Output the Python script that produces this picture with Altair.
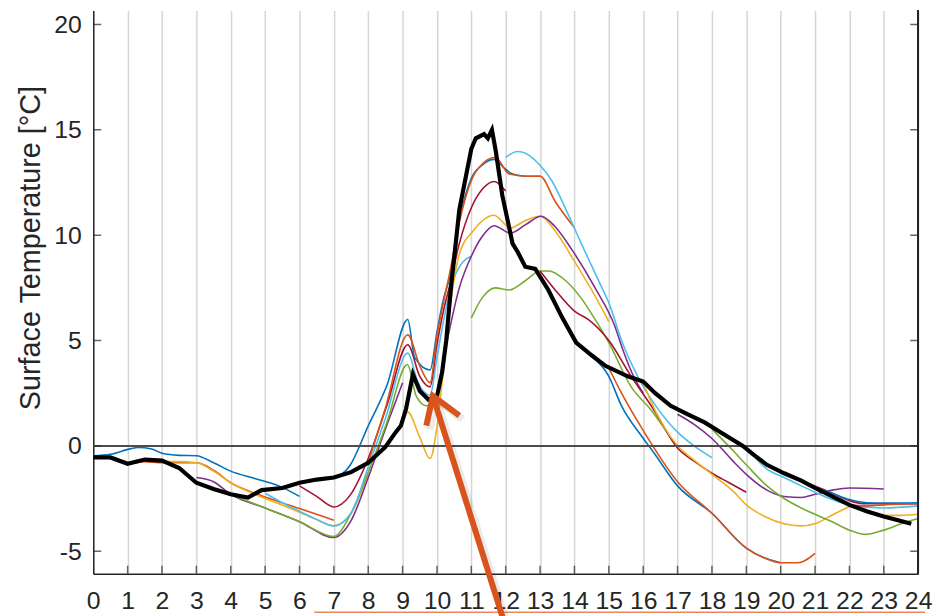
import altair as alt
import pandas as pd

# ---------------- data ----------------
palette = ["#0072BD", "#D95319", "#EDB120", "#7E2F8E", "#77AC30", "#4DBEEE", "#A2142F"]

# observed surface temperature (thick black)
obs_hour = [0, 0.5, 1, 1.5, 2, 2.5, 3, 3.5, 4, 4.5, 4.9, 5.5, 6, 6.5, 7, 7.5, 8, 8.5, 8.8, 8.95,
            9.1, 9.3, 9.5, 9.75, 10.0, 10.15, 10.27, 10.4, 10.65, 11.0, 11.13, 11.37, 11.48, 11.6, 11.71,
            11.9, 12.2, 12.35, 12.57, 12.86, 13.24, 13.64, 14.05, 14.5, 14.9, 15.55, 16.0, 16.35, 16.8,
            17.3, 17.8, 18.25, 18.9, 19.2, 19.6, 20.1, 20.6, 21.0, 21.5, 22.0, 22.5, 23.0, 23.8]
obs_temp = [-0.55, -0.55, -0.85, -0.65, -0.7, -1.05, -1.75, -2.05, -2.3, -2.45, -2.1, -2.0, -1.75, -1.6,
            -1.5, -1.25, -0.8, -0.05, 0.65, 0.95, 1.75, 3.4, 2.6, 2.2, 2.35, 3.5, 5.0, 7.4, 11.2, 14.1,
            14.6, 14.8, 14.6, 15.0, 14.0, 11.9, 9.6, 9.2, 8.5, 8.4, 7.4, 6.1, 4.9, 4.3, 3.8, 3.3, 3.05,
            2.5, 1.9, 1.5, 1.1, 0.65, 0.0, -0.4, -0.9, -1.3, -1.65, -2.0, -2.4, -2.8, -3.1, -3.35, -3.7]

# 6-hour forecast runs, one started every hour
run00_h = [0, 0.5, 1.1, 1.3, 1.7, 2, 2.5, 3, 3.5, 4, 4.7, 5.4, 6]
run00_t = [-0.47, -0.4, -0.13, -0.08, -0.15, -0.35, -0.45, -0.47, -0.8, -1.2, -1.55, -1.9, -2.4]
run01_h = [1, 1.5, 2, 2.5, 3, 3.5, 4, 4.7, 5.4, 6, 6.5, 7]
run01_t = [-0.88, -0.75, -0.8, -0.8, -0.8, -1.15, -1.75, -2.25, -2.65, -2.97, -3.25, -3.53]
run02_h = [2, 2.5, 3, 3.5, 4, 4.7, 5.4, 6, 6.5, 7, 7.5, 8]
run02_t = [-0.75, -0.75, -0.8, -1.2, -1.75, -2.3, -2.75, -3.15, -3.5, -3.8, -3.2, -1.3]
run03_h = [3, 3.5, 4, 5, 6, 7, 7.5, 8, 8.5, 9]
run03_t = [-1.5, -1.7, -2.3, -2.95, -3.6, -4.35, -3.55, -1.5, 0.8, 3.0]
run04_h = [4, 5, 6, 7, 7.47, 8, 8.54, 9.14, 9.4, 9.7, 10]
run04_t = [-2.3, -2.95, -3.6, -4.3, -3.3, -1.25, 1.1, 3.86, 2.35, 1.9, 2.0]
run05_h = [5, 5.5, 6, 6.5, 7, 7.5, 8, 8.5, 9.15, 9.45, 9.8, 10.0, 10.2, 10.37, 10.65, 11]
run05_t = [-2.25, -2.7, -3.1, -3.5, -3.8, -3.2, -1.0, 1.3, 4.4, 3.0, 2.4, 4.2, 6.0, 7.3, 8.5, 9.0]
run06_h = [6, 6.5, 7, 7.47, 8, 8.54, 9.15, 9.5, 9.8, 10.0, 10.2, 10.37, 10.65, 11.0, 11.33, 11.66, 12]
run06_t = [-1.9, -2.4, -2.9, -2.35, -0.6, 1.9, 4.8, 3.3, 2.8, 4.8, 6.5, 7.6, 9.6, 11.3, 12.2, 12.55, 12.1]
run07_h = [7, 7.47, 8, 8.55, 9.15, 9.35, 9.8, 10.0, 10.18, 10.37, 10.65, 11.0, 11.33, 11.66, 11.95,
           12.2, 12.57, 13]
run07_t = [-1.55, -0.93, 0.95, 2.9, 6.0, 4.2, 3.6, 5.4, 6.9, 8.0, 10.7, 12.7, 13.35, 13.6, 13.2,
           12.9, 12.8, 12.8]
run08_h = [8, 8.5, 9.15, 9.5, 9.8, 10.0, 10.2, 10.37, 10.65, 11.0, 11.33, 11.7, 12.1, 12.6, 13.0,
           13.44, 14]
run08_t = [-0.8, 1.8, 5.27, 3.8, 3.0, 5.2, 6.9, 8.2, 10.6, 12.6, 13.4, 13.7, 12.9, 12.8, 12.8,
           11.6, 10.35]
run09_h = [9, 9.15, 9.5, 9.8, 10.0, 10.2, 10.4, 10.65, 11.05, 11.66, 12.14, 12.58, 13.0, 13.44, 13.93,
           14.5, 15]
run09_t = [1.3, 1.6, 0.4, -0.6, 0.9, 3.8, 6.8, 9.1, 10.2, 10.95, 10.35, 10.7, 10.9, 10.2, 8.95, 7.4, 5.9]
run10_h = [10, 10.3, 10.65, 11, 11.3, 11.66, 12.14, 12.58, 13.03, 13.44, 13.93, 14.6, 15.17, 15.4,
           15.75, 16]
run10_t = [2.4, 5.0, 7.5, 9.0, 9.9, 10.45, 10.1, 10.5, 10.9, 10.4, 9.3, 7.5, 5.7, 4.6, 3.2, 2.5]
run11_h = [11, 11.33, 11.7, 12.1, 12.58, 13, 13.25, 13.73, 14.2, 14.6, 15, 15.65, 16.23, 17]
run11_t = [6.07, 7.06, 7.5, 7.4, 7.85, 8.3, 8.3, 7.86, 7.0, 6.0, 4.9, 2.8, 1.7, -0.1]
run12_h = [12, 12.35, 12.67, 12.95, 13.35, 13.73, 14.2, 14.8, 15.0, 15.37, 15.84, 16.3, 17.0, 17.48, 18]
run12_t = [13.7, 13.97, 13.8, 13.4, 12.56, 11.3, 9.6, 7.5, 6.8, 5.0, 3.3, 2.05, 0.65, 0.0, -0.56]
run13_h = [13, 13.44, 14, 14.4, 15, 15.65, 16.3, 17, 17.5, 18, 18.5, 19]
run13_t = [8.3, 7.4, 6.4, 6.0, 5.0, 3.3, 1.74, -0.1, -0.75, -1.3, -1.75, -2.2]
run14_h = [14, 14.4, 15, 15.37, 15.95, 16.3, 17, 18, 19, 19.5, 20]
run14_t = [5.0, 4.4, 3.3, 1.9, 0.47, -0.3, -1.9, -3.2, -4.85, -5.3, -5.55]
run15_h = [15, 15.37, 16.03, 17, 18, 19, 19.5, 20, 20.5, 21]
run15_t = [3.7, 2.5, 0.65, -1.7, -3.2, -4.85, -5.3, -5.55, -5.55, -5.1]
run16_h = [16, 16.2, 17, 17.5, 18, 18.63, 19, 19.6, 20.1, 20.57, 21.04, 21.5, 22]
run16_t = [3.0, 2.2, 0.0, -0.7, -1.35, -2.17, -2.8, -3.4, -3.7, -3.8, -3.67, -3.28, -2.88]
run17_h = [17, 17.5, 18, 18.6, 19, 19.6, 20.1, 20.6, 21, 21.5, 22, 23]
run17_t = [1.5, 1.0, 0.35, -0.7, -1.35, -2.1, -2.4, -2.45, -2.3, -2.1, -2.0, -2.05]
run18_h = [18, 18.6, 19, 19.6, 20.1, 20.6, 21, 21.5, 22, 22.5, 23, 23.5, 24]
run18_t = [0.8, -0.2, -0.9, -1.9, -2.5, -2.95, -3.25, -3.6, -4.0, -4.2, -4.0, -3.7, -3.45]
run19_h = [19, 19.6, 20.1, 20.6, 21, 21.5, 22, 23, 24]
run19_t = [-0.05, -1.1, -1.5, -1.9, -2.2, -2.55, -2.8, -2.95, -2.85]
run20_h = [20, 20.6, 21, 21.5, 22, 22.5, 23, 24]
run20_t = [-1.25, -1.65, -1.9, -2.25, -2.6, -2.75, -2.75, -2.75]
run21_h = [21, 21.5, 22, 22.5, 23, 24]
run21_t = [-1.95, -2.25, -2.55, -2.7, -2.72, -2.7]
run22_h = [22, 22.5, 23, 24]
run22_t = [-2.8, -2.85, -2.8, -2.75]
run23_h = [23, 23.5, 24]
run23_t = [-3.3, -3.3, -3.25]

# annotation arrow and the top edge of the caption box below the axes (data coordinates)
arrow_shaft_h = [9.88, 12.0]
arrow_shaft_t = [2.37, -8.6]
arrow_head_h = [9.69, 9.88, 10.65]
arrow_head_t = [0.96, 2.37, 1.43]
box_edge_h = [6.43, 24.2]
box_edge_t = [-7.9, -7.9]

x_ticks = list(range(0, 25))
y_ticks = [-5, 0, 5, 10, 15, 20]

# ---------------- tables ----------------
runs = [(run00_h, run00_t), (run01_h, run01_t), (run02_h, run02_t), (run03_h, run03_t),
        (run04_h, run04_t), (run05_h, run05_t), (run06_h, run06_t), (run07_h, run07_t),
        (run08_h, run08_t), (run09_h, run09_t), (run10_h, run10_t), (run11_h, run11_t),
        (run12_h, run12_t), (run13_h, run13_t), (run14_h, run14_t), (run15_h, run15_t),
        (run16_h, run16_t), (run17_h, run17_t), (run18_h, run18_t), (run19_h, run19_t),
        (run20_h, run20_t), (run21_h, run21_t), (run22_h, run22_t), (run23_h, run23_t)]
rows = []
for k, (hs, ts) in enumerate(runs):
    for i, (h, t) in enumerate(zip(hs, ts)):
        rows.append({"run": k, "hour": h, "temp": t, "idx": i, "color": palette[k % 7]})
runs_df = pd.DataFrame(rows)
obs_df = pd.DataFrame({"hour": obs_hour, "temp": obs_temp, "idx": range(len(obs_hour))})

arrow_rows = []
for i, (h, t) in enumerate(zip(arrow_shaft_h, arrow_shaft_t)):
    arrow_rows.append({"part": "shaft", "hour": h, "temp": t, "idx": i})
for i, (h, t) in enumerate(zip(arrow_head_h, arrow_head_t)):
    arrow_rows.append({"part": "head", "hour": h, "temp": t, "idx": i})
arrow_df = pd.DataFrame(arrow_rows)
shadow_df = arrow_df.assign(hour=arrow_df["hour"] + 0.1, temp=arrow_df["temp"] - 0.17)
box_df = pd.DataFrame({"hour": box_edge_h, "temp": box_edge_t, "idx": [0, 1]})

xt_df = pd.DataFrame({"hour": x_ticks})
yt_df = pd.DataFrame({"temp": y_ticks})

# ---------------- scales / axes ----------------
X_MIN, X_MAX = 0, 24
Y_MIN, Y_MAX = -6.07, 20.66
xsc = alt.Scale(domain=[X_MIN, X_MAX], nice=False, zero=False)
ysc = alt.Scale(domain=[Y_MIN, Y_MAX], nice=False, zero=False)
FONT = "Liberation Sans"
INK = "#262626"
YTITLE = "Surface Temperature [°C]"

xaxis = alt.Axis(values=x_ticks, grid=True, gridColor="#d6d6d6", gridWidth=1.5,
                 domain=True, domainColor=INK, domainWidth=1.5, ticks=False, tickSize=0,
                 labelFont=FONT, labelFontSize=25, labelColor=INK, labelPadding=15,
                 labelFlush=False, labelOverlap=False, labelExpr="'' + datum.value", title=None)
yaxis = alt.Axis(values=y_ticks, grid=False, domain=True, domainColor=INK, domainWidth=1.5,
                 ticks=False, tickSize=0, labelFont=FONT, labelFontSize=25, labelColor=INK,
                 labelPadding=12, labelOverlap=False, labelExpr="'' + datum.value",
                 title=YTITLE, titleFont=FONT, titleFontSize=29,
                 titleFontWeight="normal", titleColor=INK, titleAngle=270, titleAlign="center",
                 titleBaseline="middle", titleX=-63, titleY=239)


def X(field="hour"):
    return alt.X(f"{field}:Q", scale=xsc, axis=xaxis, title=None)


def Y(field="temp"):
    return alt.Y(f"{field}:Q", scale=ysc, axis=yaxis, title=YTITLE)


zero_line = alt.Chart(obs_df).mark_rule(color="#4d4d4d", strokeWidth=1.6).encode(
    y=alt.YDatum(0, type="quantitative", scale=ysc, axis=yaxis, title=YTITLE))

forecast = alt.Chart(runs_df).mark_line(strokeWidth=1.6, interpolate="monotone", clip=True).encode(
    x=X(), y=Y(),
    color=alt.Color("color:N", scale=None),
    detail="run:N", order="idx:Q")

observed = alt.Chart(obs_df).mark_line(color="black", strokeWidth=4.2, clip=True).encode(
    x=X(), y=Y(), order="idx:Q")

shadow = alt.Chart(shadow_df).mark_line(color="#000000", opacity=0.08, strokeWidth=8,
                                        strokeCap="butt", strokeJoin="miter", clip=False).encode(
    x=X(), y=Y(), detail="part:N", order="idx:Q")

arrow = alt.Chart(arrow_df).mark_line(color="#D9541C", strokeWidth=6, strokeCap="butt",
                                      strokeJoin="miter", clip=False).encode(
    x=X(), y=Y(), detail="part:N", order="idx:Q")

box_edge = alt.Chart(box_df).mark_line(color="#E58A5A", strokeWidth=1.5, clip=False).encode(
    x=X(), y=Y(), order="idx:Q")

x_in_ticks = alt.Chart(xt_df).mark_tick(orient="vertical", size=16, thickness=1.5,
                                        color=INK, clip=True).encode(
    x=X(),
    y=alt.YDatum(Y_MIN, type="quantitative", scale=ysc, axis=yaxis, title=YTITLE))

y_in_ticks_left = alt.Chart(yt_df).mark_tick(orient="horizontal", size=16, thickness=1.5,
                                             color=INK, clip=True).encode(
    y=Y(),
    x=alt.XDatum(X_MIN, type="quantitative", scale=xsc, axis=xaxis, title=None))

y_in_ticks_right = alt.Chart(yt_df).mark_tick(orient="horizontal", size=16, thickness=1.5,
                                              color=INK, clip=True).encode(
    y=Y(),
    x=alt.XDatum(X_MAX, type="quantitative", scale=xsc, axis=xaxis, title=None))

right_axis = alt.Chart(obs_df).mark_rule(color=INK, strokeWidth=1.5).encode(
    x=alt.XDatum(X_MAX, type="quantitative", scale=xsc, axis=xaxis, title=None))

chart = alt.layer(
    forecast, zero_line, observed, x_in_ticks, y_in_ticks_left, y_in_ticks_right, right_axis,
    box_edge, shadow, arrow
).properties(
    width=832, height=568,
    padding={"left": 86, "top": 0, "right": 17, "bottom": 40},
    autosize=alt.AutoSizeParams(type="none"),
    background="white",
).configure_view(stroke=None)

chart.save("out.html", embed_options={"renderer": "svg", "actions": False})
